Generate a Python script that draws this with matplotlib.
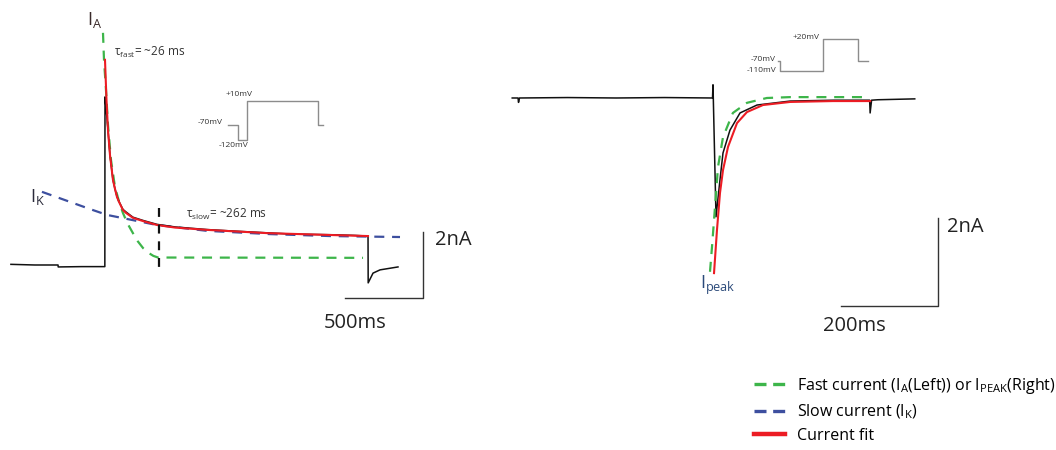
import matplotlib
matplotlib.use("Agg")
import matplotlib.pyplot as plt
from matplotlib.lines import Line2D

plt.rcParams['font.family'] = ['Open Sans', 'DejaVu Sans']
plt.rcParams['mathtext.fontset'] = 'custom'
plt.rcParams['mathtext.rm'] = 'Open Sans'
plt.rcParams['mathtext.it'] = 'Open Sans:italic'

# ---------------- Left panel data (time in ms, current in nA) ----------------
left_raw_t = [-603, -450, -301, -300, -150, -1, 0, 6, 12, 19.2, 32, 51, 64, 77, 90, 115, 135, 179, 244,
              333, 450, 654, 800, 1038, 1200, 1461, 1600, 1686, 1687, 1718, 1763, 1878]
left_raw_i = [0.02, 0.0, 0.0, -0.06, -0.05, -0.05, 5.17, 4.85, 4.55, 4.15, 3.38, 2.62, 2.34, 2.10, 1.95,
              1.71, 1.63, 1.47, 1.37, 1.25, 1.17, 1.09, 1.05, 0.99, 0.95, 0.93, 0.91, 0.89, -0.55,
              -0.25, -0.15, -0.06]

left_fit_t = [0, 9.6, 19.2, 32, 51, 64, 77, 90, 115, 135, 179, 244, 333, 450, 654, 1038, 1461, 1686]
left_fit_i = [6.31, 5.08, 4.15, 3.38, 2.62, 2.34, 2.09, 1.94, 1.69, 1.60, 1.45, 1.35, 1.23, 1.15, 1.08,
              0.98, 0.92, 0.89]

left_fast_t = [-12.8, -6.4, 6.4, 19.2, 38.5, 64, 90, 115, 145, 179, 210, 244, 280, 310, 340, 1654]
left_fast_i = [7.14, 6.31, 5.38, 4.31, 3.23, 2.4, 1.95, 1.6, 1.27, 0.98, 0.73, 0.52, 0.37, 0.28, 0.23,
               0.22]

left_slow_t = [-404, -96, 13, 333, 654, 1058, 1442, 1891]
left_slow_i = [2.25, 1.72, 1.54, 1.23, 1.05, 0.95, 0.89, 0.86]

left_marker_t = 346          # dashed vertical marker time
left_marker_i = (1.75, -0.2)

left_scale_t = (1538, 2038)  # 500 ms
left_scale_i = (-1.0, 1.0)   # 2 nA

# protocol (schematic), mV
prot_left_t = [0, 10, 10, 19, 19, 90, 90, 95]
prot_left_v = [-70, -70, -120, -120, 10, 10, -70, -70]

# ---------------- Right panel data ----------------
right_raw_t = [-414, -402, -401, -399, -300, -200, -100, -1, 0, 6.2, 14.4, 20.6, 35, 55.7, 90.7,
               159, 250, 323, 324, 327, 340, 416]
right_raw_i = [0.0, 0.0, -0.1, 0.0, 0.01, 0.0, 0.01, 0.0, 0.3, -2.70, -1.86, -1.25, -0.73, -0.34,
               -0.16, -0.07, -0.05, -0.05, -0.34, -0.05, -0.04, -0.02]

right_fit_t = [2.1, 8.2, 14.4, 20.6, 31, 49.5, 70, 103, 159, 247, 324]
right_fit_i = [-3.98, -3.0, -2.16, -1.64, -1.11, -0.57, -0.32, -0.16, -0.09, -0.07, -0.07]

right_fast_t = [-6.2, -2.1, 4.1, 10.3, 20.6, 41, 70, 111, 159, 320]
right_fast_i = [-3.95, -3.39, -2.48, -1.57, -0.89, -0.34, -0.11, 0.0, 0.02, 0.02]

right_scale_t = (264, 464)    # 200 ms
right_scale_i = (-4.73, -2.73)  # 2 nA

prot_right_t = [0, 2, 2, 45, 45, 80, 80, 90]
prot_right_v = [-70, -70, -110, -110, 20, 20, -70, -70]

legend_labels = ['Fast current ($\\mathregular{I_A}$(Left)) or $\\mathregular{I_{PEAK}}$(Right)',
                 'Slow current ($\\mathregular{I_K}$)',
                 'Current fit']

GREEN = '#3db54a'
BLUE = '#3d4f9f'
RED = '#ec1c24'
BLACK = '#111111'
GRAY = '#8c8c8c'

W, H = 1056, 450
fig = plt.figure(figsize=(W / 100, H / 100), dpi=100)

def px_axes(x0, y0, x1, y1):
    return fig.add_axes([x0 / W, 1 - y1 / H, (x1 - x0) / W, (y1 - y0) / H])

# ---------------- Left panel ----------------
axL = px_axes(0, 0, 480, 450)
axL.set_xlim(-673, (480 - 105) * 6.41)
axL.set_ylim(-5.69, 8.15)
axL.axis('off')

axL.plot(left_slow_t, left_slow_i, color=BLUE, lw=1.6, dashes=(4.5, 3.5))
axL.plot(left_fast_t, left_fast_i, color=GREEN, lw=1.6, dashes=(4.5, 3.5))
axL.plot(left_raw_t, left_raw_i, color=BLACK, lw=1.1)
axL.plot(left_fit_t, left_fit_i, color=RED, lw=1.5)
axL.plot([left_marker_t, left_marker_t], left_marker_i, color=BLACK, lw=1.6, dashes=(4, 3.5))
axL.plot([left_scale_t[0], left_scale_t[1], left_scale_t[1]],
         [left_scale_i[0], left_scale_i[0], left_scale_i[1]], color='#333333', lw=1.0)
axL.text(2115, 0.77, '2nA', fontsize=14.5, ha='left', va='center', color='#222222')
axL.text(1603, -1.78, '500ms', fontsize=14.5, ha='center', va='center', color='#222222')

axL.text(-115, 7.55, '$\\mathregular{I_A}$', fontsize=13, ha='left', va='center', color='#3a2a2a')
axL.text(58, 6.55, '$\\mathregular{\\tau_{fast}}$= ~26 ms', fontsize=8.5, ha='left', va='center',
         color='#333333')
axL.text(-480, 2.1, '$\\mathregular{I_K}$', fontsize=13, ha='left', va='center', color='#2a2a3a')
axL.text(520, 1.55, '$\\mathregular{\\tau_{slow}}$= ~262 ms', fontsize=8.5, ha='left', va='center',
         color='#333333')

axPL = px_axes(228, 101, 323, 140)
axPL.set_xlim(0, 95)
axPL.set_ylim(-120, 10)
axPL.axis('off')
axPL.plot(prot_left_t, prot_left_v, color=GRAY, lw=1.0, clip_on=False)
axPL.text(25, 30, '+10mV', fontsize=6, ha='right', va='center', color='#333333')
axPL.text(-5, -63, '-70mV', fontsize=6, ha='right', va='center', color='#333333')
axPL.text(20, -137, '-120mV', fontsize=6, ha='right', va='center', color='#333333')

# ---------------- Right panel ----------------
axR = px_axes(490, 0, 1056, 450)
axR.set_xlim((490 - 713) * 2.062, (1056 - 713) * 2.062)
axR.set_ylim(-8.0, 2.227)
axR.axis('off')

axR.plot(right_raw_t, right_raw_i, color=BLACK, lw=1.1)
axR.plot(right_fit_t, right_fit_i, color=RED, lw=1.5)
axR.plot(right_fast_t, right_fast_i, color=GREEN, lw=1.6, dashes=(4.5, 3.5))
axR.plot([right_scale_t[0], right_scale_t[1], right_scale_t[1]],
         [right_scale_i[0], right_scale_i[0], right_scale_i[1]], color='#333333', lw=1.0)
axR.text(482, -2.93, '2nA', fontsize=14.5, ha='left', va='center', color='#222222')
axR.text(291, -5.18, '200ms', fontsize=14.5, ha='center', va='center', color='#222222')
axR.text(-26, -4.25, '$\\mathregular{I_{peak}}$', fontsize=13, ha='left', va='center', color='#2b4a7a')

axPR = px_axes(778, 39, 868, 71)
axPR.set_xlim(0, 90)
axPR.set_ylim(-110, 20)
axPR.axis('off')
axPR.plot(prot_right_t, prot_right_v, color=GRAY, lw=1.0, clip_on=False)
axPR.text(42, 28, '+20mV', fontsize=6, ha='right', va='center', color='#333333')
axPR.text(-2, -65, '-70mV', fontsize=6, ha='right', va='center', color='#333333')
axPR.text(-2, -110, '-110mV', fontsize=6, ha='right', va='center', color='#333333')

# ---------------- Legend ----------------
handles = [Line2D([], [], color=GREEN, lw=2.4, dashes=(3.6, 2.0)),
           Line2D([], [], color=BLUE, lw=2.4, dashes=(3.6, 2.0)),
           Line2D([], [], color=RED, lw=3.2)]
fig.legend(handles, legend_labels, loc='upper left', bbox_to_anchor=(754 / W, 1 - 376 / H),
           frameon=False, fontsize=11.5, handlelength=1.95, handletextpad=0.75,
           labelspacing=0.42, borderaxespad=0, borderpad=0)

fig.savefig('out.png', dpi=100)
